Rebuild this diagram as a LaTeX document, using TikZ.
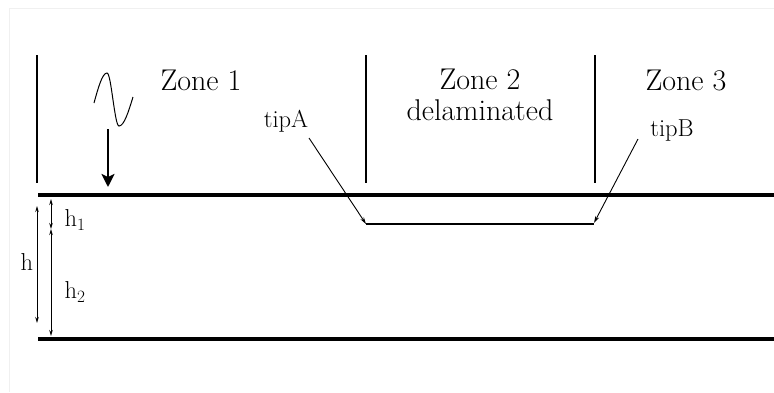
\documentclass[tikz,border=0pt]{standalone}
\usepackage{fontspec}
\usepackage{tikz}
\usetikzlibrary{arrows.meta,positioning}

\begin{document}
\begin{tikzpicture}[x=1pt,y=-1pt,>={Stealth[length=7pt,width=4pt]},
  zonetext/.style = {font=\fontsize{30}{31}\selectfont, align=center},
  smalltext/.style = {font=\fontsize{24.5}{26}\selectfont, inner sep=0pt},
  layer/.style = {line width=4pt},
  wall/.style = {line width=1.4pt},
  dim/.style = {<->, line width=0.9pt, >={Stealth[length=6pt,width=3.5pt]}},]
\useasboundingbox (0,0) rectangle (774,392);
\draw[gray!12] (9,392) -- (9,8) -- (774,8);
% layers
\coordinate (TL) at (38,195);
\coordinate (TR) at (774,195);
\coordinate (BL) at (38,339);
\coordinate (BR) at (774,339);
\coordinate (DA) at (366,224);
\coordinate (DB) at (594,224);
\draw[layer] (TL)--(TR);
\draw[layer] (BL)--(BR);
\draw[line width=2pt] (DA)--(DB);
% zone borders
\draw[wall] (37,55)--(37,183);
\draw[wall] (366,55)--(366,183);
\draw[wall] (595,55)--(595,183);
% zone labels
\node (zone1) at (201,80)[zonetext] {Zone 1};
\node (zone2) at (480,95)[zonetext] {Zone 2\\delaminated};
\node (zone3) at (686,80)[zonetext] {Zone 3};
\node (tipA) at (286,121)[smalltext] {tipA};
\node (tipB) at (672,131)[smalltext] {tipB};
\draw[->,line width=0.9pt] (309,138)--(DA);
\draw[->,line width=0.9pt] (638,139)--(594,223);
% incoming wave
\draw[line width=1pt] (94,103) sin (107,73) cos (113,100) sin (119,126) cos (133,97);
\draw[->,line width=2.6pt,>={Stealth[length=13pt,width=13pt,inset=3pt]}] (108,129)--(108,187);
% thicknesses
\draw[dim] (51,199)--(51,229);
\draw[dim] (51,229)--(51,336);
\draw[dim] (37,206)--(37,323);
\node (hone) at (75,220)[smalltext] {h$_1$};
\node (htwo) at (75,292)[smalltext] {h$_2$};
\node (hlab) at (27,262)[smalltext] {h};
\end{tikzpicture}
\end{document}
